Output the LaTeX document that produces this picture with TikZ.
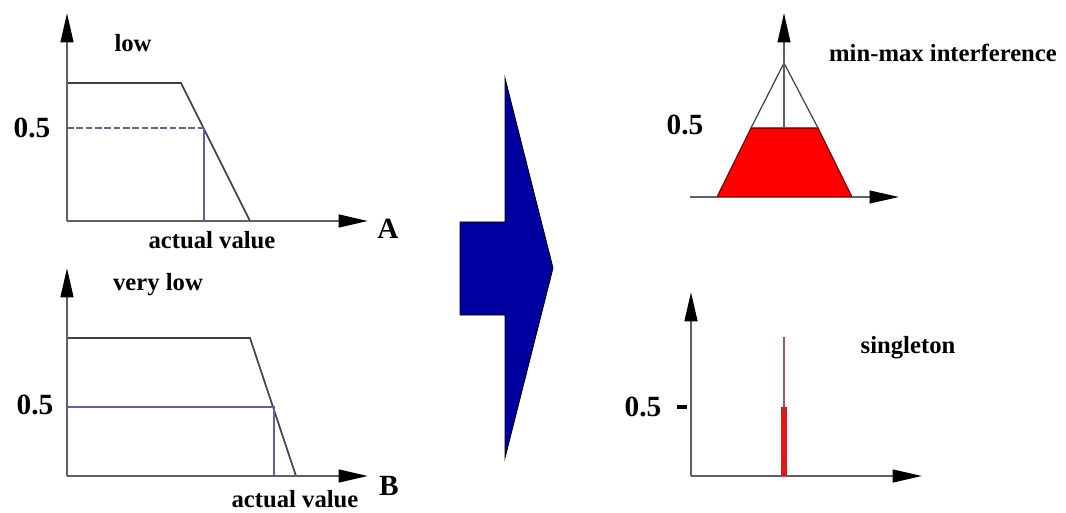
\documentclass[tikz,border=0pt]{standalone}
\usepackage{fontspec}
\setmainfont{Liberation Serif}
\usetikzlibrary{arrows.meta}
\definecolor{axisgray}{HTML}{606060}
\definecolor{curvegray}{HTML}{404040}
\definecolor{levelblue}{HTML}{6060A8}
\definecolor{navyarrow}{HTML}{0000A0}
\definecolor{brightred}{HTML}{FF0000}
\definecolor{spikered}{HTML}{E01818}
\definecolor{spikethin}{HTML}{A05858}
\tikzset{
  axisline/.style={draw=axisgray, line width=1.8pt, -{Triangle[length=22pt,width=9.5pt,fill=black,color=black]}},
  curveline/.style={draw=curvegray, line width=1.2pt, line join=miter},
  levelline/.style={draw=levelblue, line width=0.9pt},
  lbl/.style={font=\bfseries\fontsize{18.5}{20}\selectfont, text=black, inner sep=0pt},
  numlbl/.style={font=\bfseries\fontsize{22}{24}\selectfont, text=black, inner sep=0pt},
}
\begin{document}
\begin{tikzpicture}[x=0.75pt,y=-0.75pt]
\useasboundingbox (0,0) rectangle (1066,513);
\fill[white] (0,0) rectangle (1066,513);

% ---------- top-left panel: low ----------
\coordinate (oA) at (67,221);
\coordinate (yA) at (67,13);
\coordinate (xA) at (368,221);
\draw[curveline] (67,83) -- (181,83) -- (250,221);
\draw[levelline, dash pattern=on 5pt off 2pt] (67,128) -- (204,128);
\draw[levelline] (204,128) -- (204,221);
\draw[axisline] (oA) -- (yA);
\draw[axisline] (oA) -- (xA);
\node[lbl] (lowlbl) at (133,43) {low};
\node[numlbl] (halfA) at (32,128) {0.5};
\node[numlbl] (Albl) at (388,229) {A};
\node[lbl] (actA) at (212,240) {actual value};

% ---------- bottom-left panel: very low ----------
\coordinate (oB) at (67,476);
\coordinate (yB) at (67,268);
\coordinate (xB) at (368,476);
\draw[curveline] (67,338) -- (250,338) -- (296,476);
\draw[levelline] (67,407) -- (274,407) -- (274,476);
\draw[axisline] (oB) -- (yB);
\draw[axisline] (oB) -- (xB);
\node[lbl] (vlowlbl) at (158,285) {very low};
\node[numlbl] (halfB) at (35,405) {0.5};
\node[numlbl] (Blbl) at (389,486) {B};
\node[lbl] (actB) at (295,499) {actual value};

% ---------- big blue arrow ----------
\fill[navyarrow, draw=black, line width=0.6pt]
  (505,78) -- (553,268) -- (505,458) -- (505,315) -- (460,315) -- (460,222) -- (505,222) -- cycle;

% ---------- top-right panel: min-max ----------
\coordinate (oC) at (784,197);
\coordinate (yC) at (784,13);
\coordinate (xC) at (899,197);
\fill[brightred, draw=black!60!red, line width=0.8pt] (717,197) -- (751,128) -- (818,128) -- (852,197) -- cycle;
\draw[curvegray, line width=0.9pt] (751,128) -- (784,63) -- (818,128);
\draw[axisgray, line width=1.4pt] (690,197) -- (717,197);
\draw[axisline, line width=1.4pt] (852,197) -- (xC);
\draw[axisline, line width=1.4pt] (784,128) -- (yC);
\node[numlbl] (halfC) at (685,125) {0.5};
\node[lbl] (mmlbl) at (943,53) {min-max interference};

% ---------- bottom-right panel: singleton ----------
\coordinate (oD) at (691,476);
\coordinate (yD) at (691,292);
\coordinate (xD) at (922,476);
\draw[axisline] (oD) -- (yD);
\draw[axisline] (oD) -- (xD);
\draw[spikethin, line width=0.8pt] (784,337) -- (784,407);
\draw[spikered, line width=4pt] (784,407) -- (784,476);
\draw[black, line width=3pt] (677,407) -- (687,407);
\node[numlbl] (halfD) at (643,407) {0.5};
\node[lbl] (singlbl) at (908,348) {singleton};
\end{tikzpicture}
\end{document}
